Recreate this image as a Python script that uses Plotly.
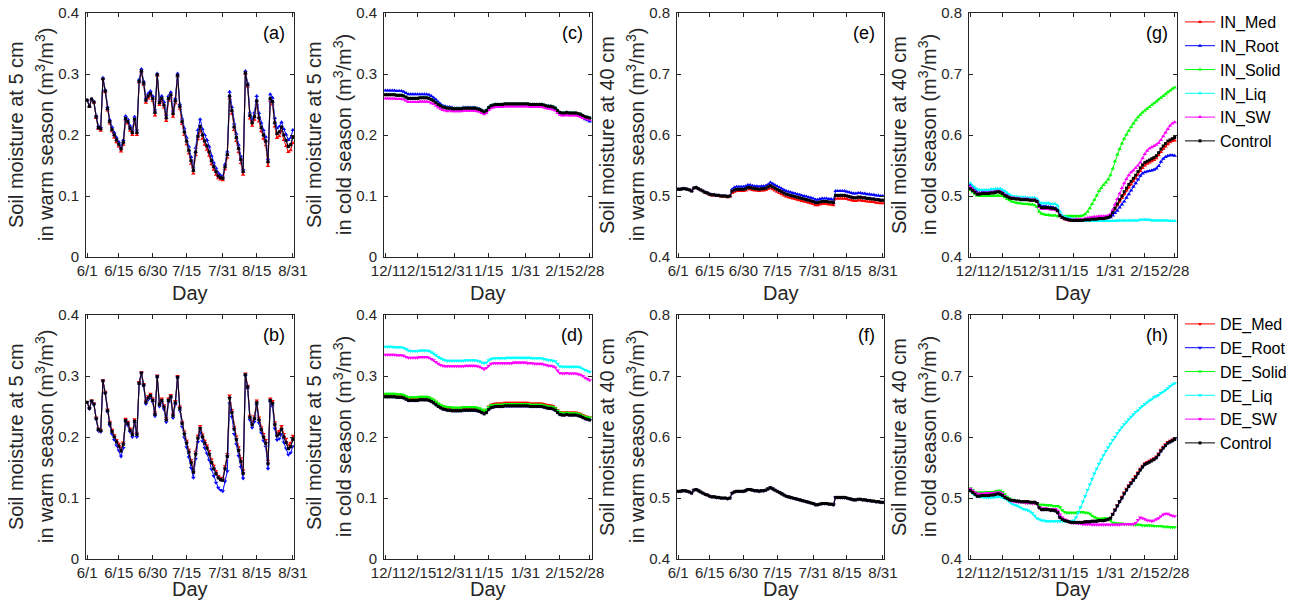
import plotly.graph_objects as go

# Figure fills the 1298x608 page (the div style cancels the default 8 px body margin).
FW, FH = 1298, 608


def px_x(p):
    return p / FW


def px_y(p):
    return 1 - p / FH


# ---------------- axis categories ----------------
warm_ticks = [0, 14, 29, 44, 60, 75, 91]
warm_ticktext = ["6/1", "6/15", "6/30", "7/15", "7/31", "8/15", "8/31"]
cold_ticks = [0, 14, 30, 45, 61, 76, 89]
cold_ticktext = ["12/1", "12/15", "12/31", "1/15", "1/31", "2/15", "2/28"]

in_names = ["IN_Med", "IN_Root", "IN_Solid", "IN_Liq", "IN_SW", "Control"]
de_names = ["DE_Med", "DE_Root", "DE_Solid", "DE_Liq", "DE_SW", "Control"]

# ---------------- data (soil moisture in thousandths of m3/m3) ----------------
# warm season (6/1 - 8/31), 5 cm
warm5_control = [257,247,259,254,230,212,210,292,272,243, 222,209,200,192,185,177,188,227,222,211,
                 204,226,204,288,305,285,257,264,268,260, 237,299,253,260,249,228,260,266,235,256,
                 298,247,222,205,190,175,158,142,172,198, 214,200,190,182,172,158,148,140,133,130,
                 129,148,168,264,240,213,196,178,160,140, 302,282,232,220,230,256,228,212,200,190,
                 156,260,255,220,202,205,213,200,191,181, 184,196]
a_root = [257,248,259,255,232,215,213,294,274,246, 225,213,204,196,189,181,192,231,226,215,
          209,230,209,291,308,288,261,268,272,264, 242,301,257,264,254,233,264,270,240,260,
          301,251,227,211,196,181,164,147,179,208, 226,210,200,192,181,166,155,146,138,134,
          132,152,173,271,246,219,202,184,165,144, 305,285,237,226,237,264,236,220,208,197,
          161,267,261,228,211,214,221,210,201,192, 195,208]
a_med = [257,246,258,253,228,210,207,292,270,240, 219,206,196,188,181,173,184,224,219,207,
         200,223,200,286,303,282,253,260,264,256, 232,297,249,256,245,223,256,262,230,252,
         296,243,218,200,185,170,153,137,167,193, 208,194,184,176,166,152,143,135,129,127,
         126,144,163,260,235,208,190,172,154,135, 300,279,227,215,225,251,222,206,194,183,
         149,256,250,214,195,198,206,192,182,172, 175,187]
a_solid = warm5_control   # hidden under Control at this resolution
a_liq = warm5_control
a_sw = warm5_control
b_med = [257,248,260,255,232,214,212,293,274,245, 225,212,203,195,189,181,191,230,225,214,
         207,229,207,290,306,287,260,267,271,263, 240,301,256,263,252,231,263,269,238,259,
         300,250,225,209,194,179,162,146,176,202, 218,204,194,186,177,163,153,144,136,133,
         132,152,172,268,244,217,201,183,165,145, 304,284,235,224,234,260,232,216,205,195,
         161,263,259,224,207,210,218,205,197,187, 190,202]
b_root = [257,246,258,253,229,210,208,291,271,241, 219,205,195,186,178,168,182,224,219,208,
          200,223,200,286,304,283,254,261,265,257, 234,297,250,257,245,224,257,263,231,253,
          296,243,217,199,183,167,149,133,164,192, 209,193,182,173,162,147,136,125,117,113,
          111,127,144,255,233,205,188,169,151,132, 300,279,228,215,225,252,223,207,194,184,
          148,257,250,214,195,197,205,191,181,171, 174,185]
b_solid = warm5_control
b_liq = warm5_control
b_sw = warm5_control

# cold season (12/1 - 2/28), 5 cm
cold5_control = [266,266,266,266,266,265,265,265,264,262, 260,260,260,260,260,261,261,261,261,260,
                 258,256,253,250,248,246,245,244,244,243, 243,243,243,243,244,244,244,244,244,244,
                 243,242,240,238,240,245,248,249,250,250, 250,250,251,251,251,251,251,251,251,251,
                 251,251,251,250,250,250,250,250,250,249, 248,247,247,246,244,240,237,236,236,237,
                 236,236,236,236,235,234,232,230,229,228]
c_root = [273,273,273,273,273,272,272,272,271,269, 267,267,267,267,267,267,267,267,267,266,
          264,261,258,254,251,248,247,246,246,245, 244,244,244,244,245,245,245,245,245,245,
          244,243,241,239,241,245,248,249,250,250, 250,250,251,251,251,251,251,251,251,251,
          251,251,251,250,250,250,250,250,250,249, 248,247,247,246,244,240,237,236,236,237,
          236,236,236,235,234,232,229,226,224,222]
c_sw = [260,260,260,260,260,259,259,259,258,256, 254,254,254,254,254,255,255,255,255,254,
        252,251,248,245,243,241,240,239,240,239, 239,239,239,239,240,240,240,240,240,240,
        239,238,236,234,236,241,244,245,246,246, 246,246,247,247,247,247,247,247,247,247,
        247,247,247,246,246,246,246,246,246,245, 244,243,243,242,240,236,233,232,232,233,
        232,232,232,232,231,230,228,227,226,225]
c_med = cold5_control
c_solid = cold5_control
c_liq = cold5_control
d_liq = [348,348,348,348,347,347,347,347,346,344, 342,341,341,341,341,342,342,342,342,341,
         339,337,334,331,329,327,326,325,325,325, 325,325,325,325,325,326,326,326,326,326,
         325,324,322,321,322,326,328,329,329,329, 329,329,329,330,330,330,330,330,330,330,
         330,330,330,330,329,329,329,329,329,328, 327,326,326,325,324,320,316,315,315,315,
         315,315,315,315,315,314,312,310,308,307]
d_sw = [335,335,335,335,335,334,334,334,333,331, 330,330,330,330,330,331,331,331,331,330,
        328,326,323,320,318,317,316,316,316,316, 316,316,316,316,316,317,317,317,317,317,
        316,315,313,311,313,317,320,321,321,321, 321,321,321,321,321,321,322,322,322,322,
        322,322,321,321,321,320,320,320,320,319, 318,317,317,316,314,309,305,304,304,305,
        304,304,304,304,303,302,300,297,295,293]
d_med = [270,270,270,270,270,269,269,269,268,266, 264,264,264,264,264,265,265,265,265,264,
         262,260,257,254,252,250,249,248,248,247, 247,247,247,247,248,248,248,248,248,248,
         247,246,244,242,244,250,253,254,255,255, 255,255,256,256,256,256,256,256,256,256,
         256,256,256,255,255,255,255,255,255,254, 253,252,252,251,248,244,241,240,240,241,
         240,240,240,240,239,238,236,234,233,232]
d_solid = [271,271,271,271,271,270,270,270,269,267, 265,265,265,265,265,266,266,266,266,265,
           263,261,258,255,253,251,250,249,249,248, 248,248,248,248,249,249,249,249,249,249,
           248,247,245,243,245,249,252,252,253,253, 253,253,254,254,254,254,254,254,254,254,
           254,254,254,253,253,253,253,253,253,252, 251,250,250,249,247,243,240,239,239,240,
           239,239,239,239,238,237,235,233,232,232]
d_root = cold5_control

# warm season, 40 cm
warm40_control = [511,511,512,512,511,510,508,513,514,512, 510,508,506,505,503,502,502,501,501,500,
                  500,500,499,500,508,510,511,511,511,511, 512,514,514,513,512,512,511,512,512,513,
                  515,517,515,513,511,509,507,505,503,502, 501,500,499,498,497,496,495,494,493,492,
                  491,489,489,490,491,491,491,490,490,489, 501,501,501,501,501,500,499,498,497,497,
                  498,498,497,497,496,496,495,495,494,494, 493,493]
e_root = [511,511,512,512,511,510,508,513,514,512, 510,508,506,505,503,502,502,501,501,500,
          500,500,499,500,511,514,515,515,515,515, 516,518,518,517,516,516,515,516,516,517,
          519,522,520,518,516,514,512,510,508,507, 506,505,504,503,502,501,500,499,498,497,
          496,494,494,495,496,496,496,495,495,494, 508,508,508,508,508,507,506,505,504,504,
          505,505,504,504,503,503,502,502,501,501, 500,500]
e_med = [511,511,512,512,511,510,508,513,514,512, 510,508,505,504,502,501,501,500,500,499,
         499,499,498,499,505,507,508,508,508,508, 509,511,511,510,509,509,508,509,509,510,
         512,513,511,509,507,505,503,501,499,498, 497,496,495,494,493,492,491,490,489,488,
         487,485,485,486,487,487,487,486,486,485, 496,496,496,496,496,495,494,493,492,492,
         493,493,492,492,491,491,490,490,489,489, 488,488]
e_solid = warm40_control
e_liq = warm40_control
e_sw = warm40_control
f_med = warm40_control
f_root = warm40_control
f_solid = warm40_control
f_liq = warm40_control
f_sw = warm40_control

# cold season, 40 cm
cold40_control = [512,509,506,503,503,504,504,504,504,505, 505,506,507,506,504,501,499,497,496,496,
                  495,495,494,494,494,494,493,493,493,491, 484,481,481,481,481,480,480,479,476,468,
                  465,463,462,461,460,460,460,460,460,460, 461,461,461,462,462,462,463,463,463,464,
                  465,467,473,480,487,494,500,507,513,519, 524,529,534,540,546,551,555,557,559,561,
                  563,566,571,577,582,586,590,592,594,596]
g_med = [512,509,506,503,503,504,504,504,504,505, 505,506,507,506,504,501,499,497,496,496,
         495,495,494,494,494,494,493,493,493,491, 484,481,481,481,481,480,480,479,476,467,
         464,462,461,460,459,459,459,459,459,459, 460,460,460,461,461,461,462,462,462,463,
         464,466,472,478,485,491,497,503,509,514, 519,524,529,535,541,546,550,553,555,557,
         559,562,567,572,577,581,585,588,590,591]
g_root = [518,514,510,506,505,506,506,506,506,507, 507,508,509,508,506,503,501,499,498,497,
          496,496,495,495,495,495,494,494,494,492, 486,483,483,483,482,482,481,480,477,469,
          466,464,462,461,460,460,460,460,460,460, 461,461,461,462,462,462,463,463,463,464,
          464,465,468,472,476,481,486,491,497,503, 509,515,521,527,533,537,539,540,541,542,
          543,545,549,556,561,564,566,567,567,566]
g_solid = [510,506,503,501,500,500,500,500,500,500, 500,501,501,501,500,498,495,493,491,490,
           489,488,488,487,487,487,486,486,485,482, 474,471,470,469,469,468,468,468,467,467,
           467,467,467,467,467,467,467,467,467,468, 470,474,480,487,494,501,508,513,518,522,
           527,534,545,557,568,577,586,594,601,607, 613,619,624,629,633,637,640,643,646,649,
           652,655,658,661,664,667,670,673,676,678]
g_liq = [521,517,514,511,510,510,510,510,510,511, 511,512,512,512,510,508,505,502,500,499,
         499,498,498,498,498,497,497,497,497,495, 490,488,488,488,488,487,487,487,484,474,
         468,466,465,464,463,462,462,461,461,460, 460,459,459,459,459,459,459,459,459,459,
         459,459,459,459,460,460,460,460,460,460, 460,460,460,460,461,461,461,461,461,460,
         460,460,460,460,460,460,460,459,459,459]
g_sw = [515,511,507,504,504,505,505,505,505,506, 506,507,508,507,505,502,500,498,497,497,
        496,496,495,495,495,495,494,494,494,492, 482,479,479,479,479,478,478,477,475,468,
        465,463,462,461,461,461,462,462,462,462, 463,464,465,465,466,466,467,467,467,467,
        468,470,477,486,495,504,513,521,528,534, 539,542,546,550,555,562,569,574,578,580,
        582,584,587,592,598,604,610,615,619,621]
h_med = [512,509,506,503,503,504,504,504,504,505, 505,506,507,506,504,501,499,497,496,496,
         495,495,494,494,494,494,493,493,493,491, 484,481,481,481,481,480,480,479,476,468,
         465,463,462,461,460,460,460,460,460,460, 461,461,461,462,462,462,463,463,463,464,
         465,467,474,481,488,495,502,509,515,521, 526,531,536,542,548,553,557,559,561,563,
         565,568,573,579,584,588,592,594,596,598]
h_root = cold40_control
h_solid = [516,513,510,509,509,509,509,510,510,510, 510,511,512,512,510,506,502,499,497,496,
           495,494,494,493,493,492,492,491,491,490, 489,489,489,488,488,488,487,487,487,485,
           480,477,476,476,476,476,476,477,477,477, 476,476,474,471,469,467,466,466,467,467,
           466,463,460,459,458,458,458,457,457,457, 457,456,456,456,456,455,455,455,455,455,
           454,454,454,454,453,453,453,452,452,452]
h_liq = [512,508,505,503,502,502,501,501,501,501, 501,502,502,502,501,499,497,494,491,489,
         488,486,484,482,481,480,478,475,471,467, 465,463,463,462,462,462,462,462,462,462,
         462,462,462,462,462,463,468,476,485,494, 503,513,522,531,540,548,556,563,570,577,
         583,589,595,600,606,611,616,621,625,629, 633,637,641,644,648,651,654,657,660,662,
         665,667,669,672,674,677,680,683,686,688]
h_sw = [515,512,509,507,507,507,507,508,508,508, 508,509,509,509,507,503,499,497,495,494,
        494,493,493,493,492,492,492,491,491,491, 485,483,483,483,482,482,482,482,479,473,
        468,465,463,461,460,459,459,458,458,457, 457,457,457,456,456,456,456,456,456,456,
        456,456,456,456,456,456,457,457,457,457, 457,457,459,464,468,467,465,463,463,462,
        463,465,467,470,473,474,474,472,471,470]

# ---------------- panels ----------------
panels = [
    dict(tag="(a)", row=0, col=0, season="warm", depth="5 cm", names=in_names,
         data=[a_med, a_root, a_solid, a_liq, a_sw, warm5_control]),
    dict(tag="(c)", row=0, col=1, season="cold", depth="5 cm", names=in_names,
         data=[c_med, c_root, c_solid, c_liq, c_sw, cold5_control]),
    dict(tag="(e)", row=0, col=2, season="warm", depth="40 cm", names=in_names,
         data=[e_med, e_root, e_solid, e_liq, e_sw, warm40_control]),
    dict(tag="(g)", row=0, col=3, season="cold", depth="40 cm", names=in_names,
         data=[g_med, g_root, g_solid, g_liq, g_sw, cold40_control]),
    dict(tag="(b)", row=1, col=0, season="warm", depth="5 cm", names=de_names,
         data=[b_med, b_root, b_solid, b_liq, b_sw, warm5_control]),
    dict(tag="(d)", row=1, col=1, season="cold", depth="5 cm", names=de_names,
         data=[d_med, d_root, d_solid, d_liq, d_sw, cold5_control]),
    dict(tag="(f)", row=1, col=2, season="warm", depth="40 cm", names=de_names,
         data=[f_med, f_root, f_solid, f_liq, f_sw, warm40_control]),
    dict(tag="(h)", row=1, col=3, season="cold", depth="40 cm", names=de_names,
         data=[h_med, h_root, h_solid, h_liq, h_sw, cold40_control]),
]

colors = ["#ff0000", "#0000ff", "#00ff00", "#00ffff", "#ff00ff", "#000000"]
col_px = [(86, 294), (384, 592), (677, 884), (969, 1177)]   # page pixels
row_px = [(13, 257), (315, 559)]
day_gap = [36, 30]   # "Day" label offset below each row
AX = "#262626"
FONT = "Liberation Sans, Arial, Helvetica, sans-serif"

fig = go.Figure()
layout = {}
annotations = []

for k, p in enumerate(panels):
    n = k + 1
    xref = "x" if n == 1 else f"x{n}"
    yref = "y" if n == 1 else f"y{n}"
    xkey = "xaxis" if n == 1 else f"xaxis{n}"
    ykey = "yaxis" if n == 1 else f"yaxis{n}"
    l, r = col_px[p["col"]]
    t, b = row_px[p["row"]]
    up = p["row"] == 0

    for j, (name, vals) in enumerate(zip(p["names"], p["data"])):
        if j == 5:
            sym, msize = "square", 3
        else:
            sym, msize = ("triangle-up" if up else "triangle-down"), 4
        fig.add_trace(go.Scatter(
            x=list(range(len(vals))), y=[v / 1000 for v in vals],
            mode="lines+markers", name=name,
            line=dict(color=colors[j], width=1),
            marker=dict(symbol=sym, size=msize, color=colors[j], line=dict(width=0)),
            xaxis=xref, yaxis=yref,
            legend="legend" if up else "legend2",
            showlegend=(p["col"] == 3),
        ))

    warm = p["season"] == "warm"
    common = dict(showline=True, linecolor=AX, linewidth=1, mirror="allticks",
                  ticks="inside", ticklen=4, tickwidth=1, tickcolor=AX,
                  showgrid=False, zeroline=False, automargin=False,
                  tickfont=dict(size=15, color=AX, family=FONT))
    layout[xkey] = dict(domain=[px_x(l), px_x(r)], anchor=yref,
                        range=[-0.5, 91.5] if warm else [-0.6, 90.0],
                        tickmode="array",
                        tickvals=warm_ticks if warm else cold_ticks,
                        ticktext=warm_ticktext if warm else cold_ticktext,
                        tickangle=0, **common)
    shallow = p["depth"] == "5 cm"
    layout[ykey] = dict(domain=[px_y(b), px_y(t)], anchor=xref,
                        range=[0, 0.4] if shallow else [0.4, 0.8],
                        tickmode="array",
                        tickvals=[0, 0.1, 0.2, 0.3, 0.4] if shallow else [0.4, 0.5, 0.6, 0.7, 0.8],
                        ticktext=["0", "0.1", "0.2", "0.3", "0.4"] if shallow else ["0.4", "0.5", "0.6", "0.7", "0.8"],
                        ticklabelstandoff=3, **common)

    season_txt = "warm season" if warm else "cold season"
    ymid = px_y((t + b) / 2)
    annotations.append(dict(
        text=f"Soil moisture at {p['depth']}",
        x=px_x(l - 70), y=ymid, xref="paper", yref="paper",
        xanchor="center", yanchor="middle", textangle=-90, showarrow=False,
        font=dict(size=20, color=AX, family=FONT)))
    annotations.append(dict(
        text=f"in {season_txt} (m<sup>3</sup>/m<sup>3</sup>)",
        x=px_x(l - 42), y=ymid, xref="paper", yref="paper",
        xanchor="center", yanchor="middle", textangle=-90, showarrow=False,
        font=dict(size=20, color=AX, family=FONT)))
    annotations.append(dict(
        text="Day", x=px_x((l + r) / 2), y=px_y(b + day_gap[p["row"]]), xref="paper", yref="paper",
        xanchor="center", yanchor="middle", showarrow=False,
        font=dict(size=20, color=AX, family=FONT)))
    annotations.append(dict(
        text=p["tag"], x=px_x(r - 7), y=px_y(t + 20), xref="paper", yref="paper",
        xanchor="right", yanchor="middle", showarrow=False,
        font=dict(size=18, color="#000000", family=FONT)))

leg_common = dict(xanchor="left", yanchor="top", bgcolor="rgba(0,0,0,0)", borderwidth=0,
                  font=dict(size=16, color="#000000", family=FONT), tracegroupgap=0,
                  itemwidth=30, traceorder="normal")
fig.update_layout(
    autosize=True, margin=dict(l=0, r=0, t=0, b=0),
    paper_bgcolor="white", plot_bgcolor="white",
    font=dict(family=FONT, color=AX),
    legend=dict(x=px_x(1180), y=px_y(5), **leg_common),
    legend2=dict(x=px_x(1180), y=px_y(307), **leg_common),
    annotations=annotations,
    **layout,
)

fig.write_html("out.html", config={"displayModeBar": False},
               default_width="1298px; margin:-8px", default_height="608px")
